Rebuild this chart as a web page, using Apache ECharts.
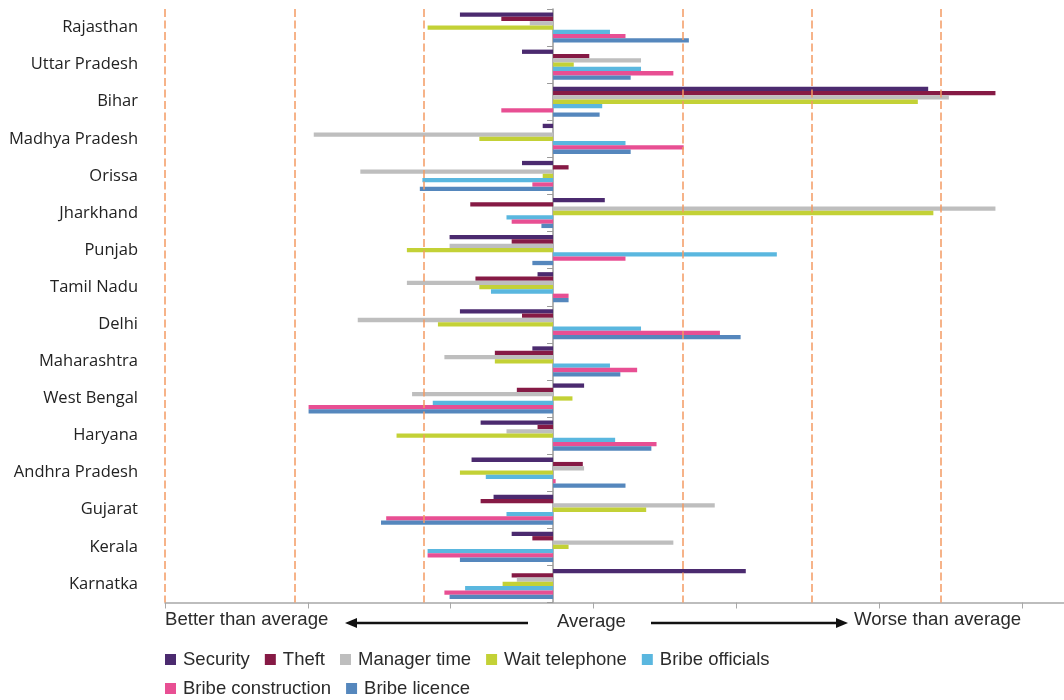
<!DOCTYPE html>
<html>
<head>
<meta charset="utf-8">
<script src="https://cdn.jsdelivr.net/npm/echarts@6/dist/echarts.min.js"></script>
<style>html,body{margin:0;padding:0;background:#fff}#c{width:1064px;height:700px}</style>
</head>
<body>
<div id="c"></div>
<script>
// Categories (states), top to bottom
var states = ['Rajasthan','Uttar Pradesh','Bihar','Madhya Pradesh','Orissa','Jharkhand','Punjab','Tamil Nadu','Delhi','Maharashtra','West Bengal','Haryana','Andhra Pradesh','Gujarat','Kerala','Karnatka'];

// Series values (deviation from average, in standard-deviation units)
var security     = [-0.72,-0.24, 2.90,-0.08,-0.24, 0.40,-0.80,-0.12,-0.72,-0.16, 0.24,-0.56,-0.63,-0.46,-0.32, 1.49];
var theft        = [-0.40, 0.28, 3.42, 0.00, 0.12,-0.64,-0.32,-0.60,-0.24,-0.45,-0.28,-0.12, 0.23,-0.56,-0.16,-0.32];
var managerTime  = [-0.18, 0.68, 3.06,-1.85,-1.49, 3.42,-0.80,-1.13,-1.51,-0.84,-1.09,-0.36, 0.24, 1.25, 0.93,-0.28];
var waitPhone    = [-0.97, 0.16, 2.82,-0.57,-0.08, 2.94,-1.13,-0.57,-0.89,-0.45, 0.15,-1.21,-0.72, 0.72, 0.12,-0.39];
var bribeOff     = [ 0.44, 0.68, 0.38, 0.56,-1.01,-0.36, 1.73,-0.48, 0.68, 0.44,-0.93, 0.48,-0.52,-0.36,-0.97,-0.68];
var bribeConstr  = [ 0.56, 0.93,-0.40, 1.01,-0.16,-0.32, 0.56, 0.12, 1.29, 0.65,-1.89, 0.80, 0.02,-1.29,-0.97,-0.84];
var bribeLicence = [ 1.05, 0.60, 0.36, 0.60,-1.03,-0.09,-0.16, 0.12, 1.45, 0.52,-1.89, 0.76, 0.56,-1.33,-0.72,-0.80];

var seriesNames = ['Security','Theft','Manager time','Wait telephone','Bribe officials','Bribe construction','Bribe licence'];
var seriesData  = [security, theft, managerTime, waitPhone, bribeOff, bribeConstr, bribeLicence];
var colors = ['#4B2A6F','#861A45','#BEBEBE','#C3D136','#5AB7DF','#E84F93','#5587BD'];

// Reference (standard deviation) lines
var sdLines = [-3,-2,-1,1,2,3];

var series = seriesNames.map(function(n,i){
  var s = {
    name: n, type: 'bar', data: seriesData[i],
    xAxisIndex: 0, yAxisIndex: 0,
    barWidth: 4.3, barGap: '0%',
    itemStyle: {color: colors[i]},
    silent: true
  };
  if (i === 0) {
    s.markLine = {
      silent: true, symbol: 'none', animation: false,
      label: {show: false},
      lineStyle: {color: '#F39A63', width: 1.5, type: [8,3.5]},
      data: sdLines.map(function(v){return {xAxis: v};})
    };
  }
  return s;
});

var legendText = {fontFamily:'Liberation Sans', fontSize:18.5, color:'#2b2b2b', padding:[0,0,0,2]};

var chart = echarts.init(document.getElementById('c'), null, {renderer:'canvas'});
chart.setOption({
  animation: false,
  color: colors,
  grid: {left: 165, right: 0, top: 9, bottom: 97.5, containLabel: false},
  xAxis: [
    {type:'value', min:-3, max:3.95, show:false, gridIndex:0},
    {type:'value', min:0, max:6.295, interval:1, position:'bottom', gridIndex:0,
     axisLine:{show:true, onZero:false, lineStyle:{color:'#A8A8A8', width:1.5}},
     axisTick:{show:true, length:6, lineStyle:{color:'#A8A8A8', width:1}},
     axisLabel:{show:false}, splitLine:{show:false}}
  ],
  yAxis: [
    {type:'category', data: states, inverse:true, position:'left',
     axisLine:{show:false, onZero:false}, axisTick:{show:false},
     axisLabel:{interval:0, margin:27, color:'#222', fontFamily:'Open Sans', fontSize:16.5, padding:[4,0,0,0]},
     splitLine:{show:false}},
    {type:'category', data: states, inverse:true, position:'left',
     axisLine:{show:true, onZero:true, onZeroAxisIndex:0, lineStyle:{color:'#9A9A9A', width:1.5}},
     axisTick:{show:true, interval:0, length:6, lineStyle:{color:'#9A9A9A', width:1}},
     axisLabel:{show:false}, splitLine:{show:false}}
  ],
  legend: [
    {left: 160, top: 645, itemWidth: 11, itemHeight: 11, itemGap: 15,
     icon: 'rect', data: seriesNames.slice(0,5), textStyle: legendText, selectedMode: false},
    {left: 160, top: 674, itemWidth: 11, itemHeight: 11, itemGap: 15,
     icon: 'rect', data: seriesNames.slice(5), textStyle: legendText, selectedMode: false}
  ],
  series: series,
  graphic: [
    {type:'text', left:165, top:610, style:{text:'Better than average', font:'18.6px "Liberation Sans"', fill:'#2b2b2b'}},
    {type:'text', left:557, top:612, style:{text:'Average', font:'18.6px "Liberation Sans"', fill:'#2b2b2b'}},
    {type:'text', left:854, top:610, style:{text:'Worse than average', font:'18.6px "Liberation Sans"', fill:'#2b2b2b'}},
    {type:'line', shape:{x1:354, y1:623, x2:528, y2:623}, style:{stroke:'#111', lineWidth:2.5}},
    {type:'polygon', shape:{points:[[345,623],[357,618],[357,628]]}, style:{fill:'#111'}},
    {type:'line', shape:{x1:651, y1:623, x2:838, y2:623}, style:{stroke:'#111', lineWidth:2.5}},
    {type:'polygon', shape:{points:[[848,623],[836,618],[836,628]]}, style:{fill:'#111'}}
  ]
});
</script>
</body>
</html>
